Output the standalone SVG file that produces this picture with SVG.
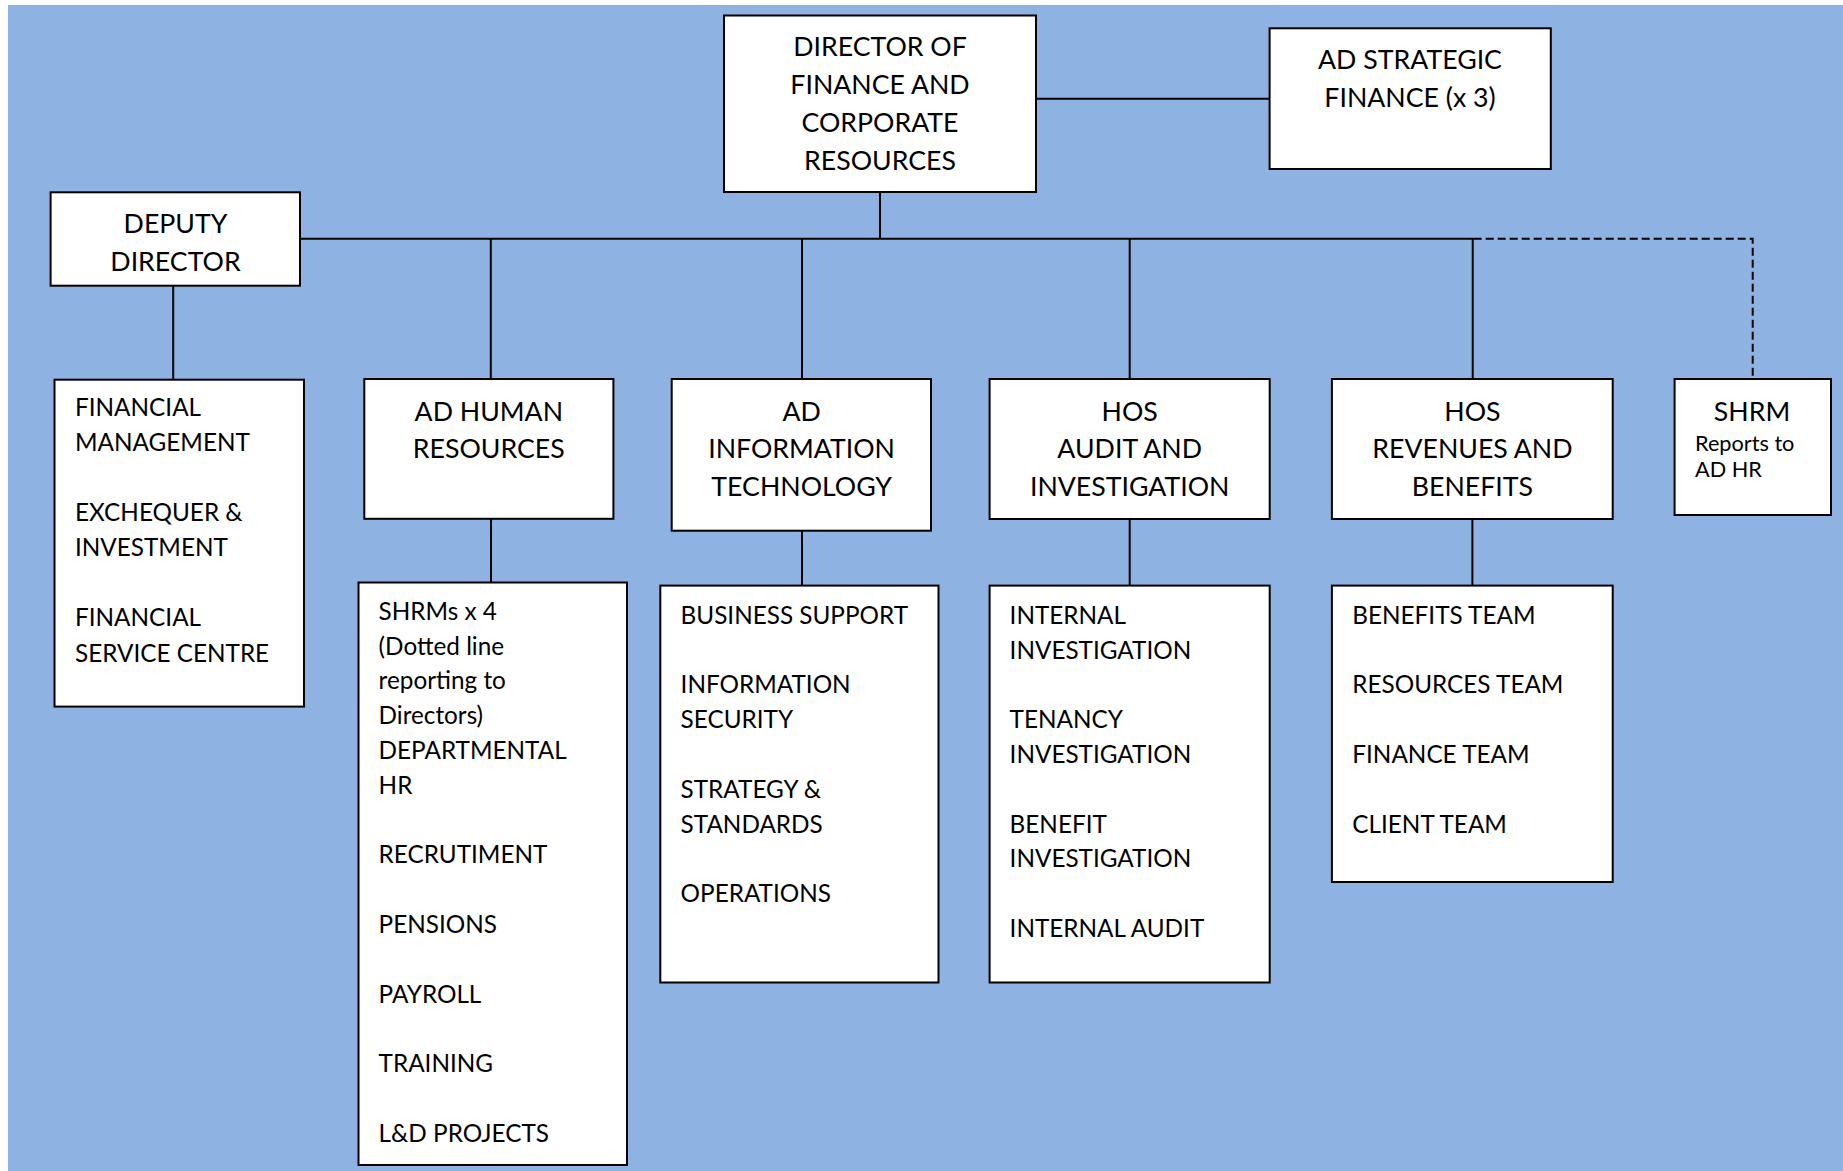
<svg xmlns="http://www.w3.org/2000/svg" width="1843" height="1171" viewBox="0 0 1843 1171">
<style>
.box{fill:#ffffff;stroke:#000000;stroke-width:2}
.ln{fill:none;stroke:#000000;stroke-width:2}
.dash{fill:none;stroke:#000000;stroke-width:2;stroke-dasharray:8 4}
.h{font-family:Lato,"Open Sans","Liberation Sans",sans-serif;font-size:26.7px;fill:#000;text-anchor:middle}
.b{font-family:Lato,"Open Sans","Liberation Sans",sans-serif;font-size:24.3px;fill:#000}
.s{font-family:Lato,"Open Sans","Liberation Sans",sans-serif;font-size:21.7px;fill:#000}
</style>
<rect x="8" y="5" width="1835" height="1166" fill="#8EB3E2"/>
<g id="connectors">
<line class="ln" x1="880" y1="192" x2="880" y2="238.7"/>
<line class="ln" x1="1036" y1="98.7" x2="1269.6" y2="98.7"/>
<line class="ln" x1="300" y1="238.7" x2="1473.7" y2="238.7"/>
<polyline class="dash" points="1473.7,238.7 1752.7,238.7 1752.7,379"/>
<line class="ln" x1="490.8" y1="238.7" x2="490.8" y2="379"/>
<line class="ln" x1="802" y1="238.7" x2="802" y2="379"/>
<line class="ln" x1="1129.7" y1="238.7" x2="1129.7" y2="379"/>
<line class="ln" x1="1472.7" y1="238.7" x2="1472.7" y2="379"/>
<line class="ln" x1="173.2" y1="285.7" x2="173.2" y2="379.7"/>
<line class="ln" x1="491" y1="518.8" x2="491" y2="582.5"/>
<line class="ln" x1="802" y1="530.7" x2="802" y2="585.6"/>
<line class="ln" x1="1129.7" y1="519" x2="1129.7" y2="589"/>
<line class="ln" x1="1472.4" y1="519" x2="1472.4" y2="589"/>
</g>
<g id="director">
<rect class="box" x="724" y="15.5" width="312" height="176.5"/>
<text class="h" x="880" y="55.5">DIRECTOR OF</text>
<text class="h" x="880" y="93.5">FINANCE AND</text>
<text class="h" x="880" y="131.5">CORPORATE</text>
<text class="h" x="880" y="169.5">RESOURCES</text>
</g>
<g id="ad-strategic">
<rect class="box" x="1269.6" y="28.3" width="281.2" height="140.7"/>
<text class="h" x="1410" y="69.3">AD STRATEGIC</text>
<text class="h" x="1410" y="106.7">FINANCE (x 3)</text>
</g>
<g id="deputy">
<rect class="box" x="50.6" y="192.3" width="249.4" height="93.4"/>
<text class="h" x="175.5" y="233.3">DEPUTY</text>
<text class="h" x="175.5" y="271">DIRECTOR</text>
</g>
<g id="financial">
<rect class="box" x="54.5" y="379.7" width="249.5" height="326.9"/>
<text class="b" x="75" y="416">FINANCIAL</text>
<text class="b" x="75" y="451">MANAGEMENT</text>
<text class="b" x="75" y="521.2">EXCHEQUER &amp;</text>
<text class="b" x="75" y="556.3">INVESTMENT</text>
<text class="b" x="75" y="626.4">FINANCIAL</text>
<text class="b" x="75" y="661.5">SERVICE CENTRE</text>
</g>
<g id="ad-hr">
<rect class="box" x="364.3" y="379" width="249.1" height="139.8"/>
<text class="h" x="488.8" y="420.5">AD HUMAN</text>
<text class="h" x="488.8" y="458.3">RESOURCES</text>
</g>
<g id="hr-teams">
<rect class="box" x="358.5" y="582.5" width="268.5" height="582.5"/>
<text class="b" x="378.6" y="619.7">SHRMs x 4</text>
<text class="b" x="378.6" y="654.5">(Dotted line</text>
<text class="b" x="378.6" y="689.3">reporting to</text>
<text class="b" x="378.6" y="724.1">Directors)</text>
<text class="b" x="378.6" y="758.9">DEPARTMENTAL</text>
<text class="b" x="378.6" y="793.7">HR</text>
<text class="b" x="378.6" y="863.3">RECRUTIMENT</text>
<text class="b" x="378.6" y="932.9">PENSIONS</text>
<text class="b" x="378.6" y="1002.5">PAYROLL</text>
<text class="b" x="378.6" y="1072.1">TRAINING</text>
<text class="b" x="378.6" y="1141.7">L&amp;D PROJECTS</text>
</g>
<g id="ad-it">
<rect class="box" x="671.7" y="379" width="259.3" height="151.7"/>
<text class="h" x="801.6" y="420.5">AD</text>
<text class="h" x="801.6" y="458.3">INFORMATION</text>
<text class="h" x="801.6" y="496">TECHNOLOGY</text>
</g>
<g id="it-teams">
<rect class="box" x="660.3" y="585.6" width="278.2" height="396.9"/>
<text class="b" x="680.6" y="623.8">BUSINESS SUPPORT</text>
<text class="b" x="680.6" y="693.4">INFORMATION</text>
<text class="b" x="680.6" y="728.2">SECURITY</text>
<text class="b" x="680.6" y="797.8">STRATEGY &amp;</text>
<text class="b" x="680.6" y="832.6">STANDARDS</text>
<text class="b" x="680.6" y="902.2">OPERATIONS</text>
</g>
<g id="hos-audit">
<rect class="box" x="989.6" y="379" width="280.1" height="140"/>
<text class="h" x="1129.7" y="420.5">HOS</text>
<text class="h" x="1129.7" y="458.3">AUDIT AND</text>
<text class="h" x="1129.7" y="496">INVESTIGATION</text>
</g>
<g id="audit-teams">
<rect class="box" x="989.6" y="585.6" width="280.1" height="396.9"/>
<text class="b" x="1009.6" y="623.8">INTERNAL</text>
<text class="b" x="1009.6" y="658.6">INVESTIGATION</text>
<text class="b" x="1009.6" y="728.2">TENANCY</text>
<text class="b" x="1009.6" y="763">INVESTIGATION</text>
<text class="b" x="1009.6" y="832.6">BENEFIT</text>
<text class="b" x="1009.6" y="867.4">INVESTIGATION</text>
<text class="b" x="1009.6" y="937">INTERNAL AUDIT</text>
</g>
<g id="hos-revenues">
<rect class="box" x="1331.9" y="379" width="280.8" height="140"/>
<text class="h" x="1472.4" y="420.5">HOS</text>
<text class="h" x="1472.4" y="458.3">REVENUES AND</text>
<text class="h" x="1472.4" y="496">BENEFITS</text>
</g>
<g id="revenues-teams">
<rect class="box" x="1331.9" y="585.6" width="280.8" height="296.4"/>
<text class="b" x="1352.3" y="623.8">BENEFITS TEAM</text>
<text class="b" x="1352.3" y="693.4">RESOURCES TEAM</text>
<text class="b" x="1352.3" y="763">FINANCE TEAM</text>
<text class="b" x="1352.3" y="832.6">CLIENT TEAM</text>
</g>
<g id="shrm">
<rect class="box" x="1674.6" y="379" width="156.4" height="136"/>
<text class="h" x="1752" y="420.5">SHRM</text>
<text class="s" x="1695" y="450.5">Reports to</text>
<text class="s" x="1695" y="477.4">AD HR</text>
</g>
</svg>
